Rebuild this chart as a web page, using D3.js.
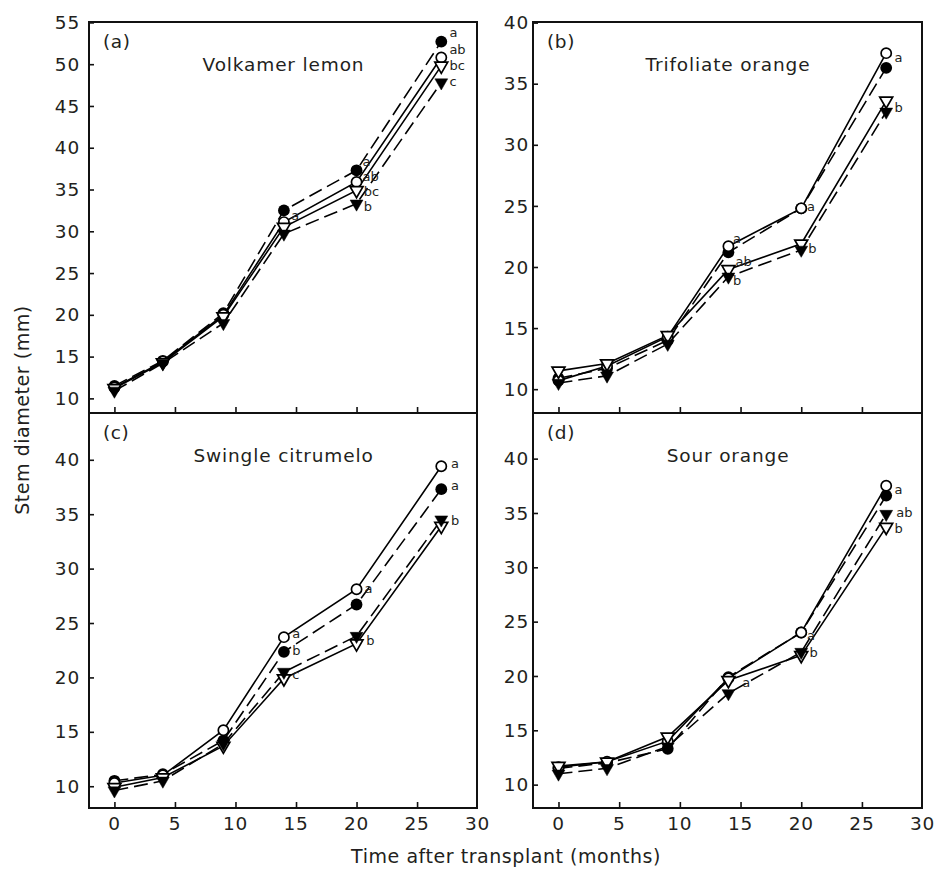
<!DOCTYPE html>
<html>
<head>
<meta charset="utf-8">
<script src="https://cdn.jsdelivr.net/npm/d3@7/dist/d3.min.js"></script>
<style>
  body { margin: 0; background: #fff; }
  svg { display: block; }
  text { font-family: "DejaVu Sans", sans-serif; fill: #231f20; }
</style>
</head>
<body>
<div id="chart"></div>
<script>
(function() {

    // time points (months after transplant)
    var months = [0, 4, 9, 14, 20, 27];

    // series order: filled circle, open circle, open triangle, filled triangle
    var markers = ['filledCircle', 'openCircle', 'openTriangle', 'filledTriangle'];

    // (a) Volkamer lemon
    var volkamerLemon = [
        [11.5, 14.5, 20.2, 32.5, 37.3, 52.7],
        [11.3, 14.4, 20.0, 31.1, 35.9, 50.8],
        [11.2, 14.3, 19.8, 30.5, 34.9, 49.8],
        [10.9, 14.2, 19.0, 29.7, 33.3, 47.8]
    ];
    var volkamerLetters = [
        [27.67, 53.7, 'a'], [27.67, 51.7, 'ab'], [27.67, 49.8, 'bc'], [27.67, 47.9, 'c'],
        [20.5, 38.3, 'a'], [20.5, 36.5, 'ab'], [20.6, 34.7, 'bc'], [20.6, 32.9, 'b'],
        [14.6, 31.9, 'a']
    ];

    // (b) Trifoliate orange
    var trifoliateOrange = [
        [10.9, 11.7, 14.0, 21.2, 24.8, 36.3],
        [10.7, 11.9, 14.3, 21.7, 24.8, 37.5],
        [11.5, 12.1, 14.4, 19.8, 21.9, 33.6],
        [10.5, 11.1, 13.7, 19.2, 21.4, 32.7]
    ];
    var trifoliateLetters = [
        [27.69, 37.1, 'a'], [27.69, 33.0, 'b'],
        [20.47, 24.9, 'a'], [20.58, 21.5, 'b'],
        [14.37, 22.3, 'a'], [14.59, 20.4, 'ab'], [14.37, 18.9, 'b']
    ];

    // (c) Swingle citrumelo
    var swingleCitrumelo = [
        [10.5, 11.1, 14.2, 22.35, 26.7, 37.3],
        [10.3, 11.0, 15.15, 23.7, 28.1, 39.4],
        [9.9, 10.8, 13.7, 19.9, 23.1, 33.9],
        [9.6, 10.5, 13.9, 20.5, 23.8, 34.5]
    ];
    var swingleLetters = [
        [27.81, 39.6, 'a'], [27.81, 37.6, 'a'], [27.81, 34.4, 'b'],
        [20.66, 28.1, 'a'], [20.8, 23.4, 'b'],
        [14.68, 24.0, 'a'], [14.68, 22.4, 'b'], [14.68, 20.2, 'c']
    ];

    // (d) Sour orange
    var sourOrange = [
        [11.5, 12.0, 13.3, 19.9, 24.0, 36.6],
        [11.6, 12.1, 14.0, 19.8, 24.0, 37.5],
        [11.7, 12.1, 14.4, 19.6, 21.9, 33.7],
        [11.0, 11.5, 13.5, 18.4, 22.2, 34.9]
    ];
    var sourLetters = [
        [27.69, 37.1, 'a'], [27.83, 35.0, 'ab'], [27.69, 33.5, 'b'],
        [20.47, 23.7, 'a'], [20.68, 22.1, 'b'],
        [15.14, 19.4, 'a']
    ];

    var xTicks = [0, 5, 10, 15, 20, 25, 30];

    var panels = [
        { tag: '(a)', name: 'Volkamer lemon', data: volkamerLemon, letters: volkamerLetters,
          col: 0, row: 0, yDomain: [8.25, 55.05], yTicks: [10, 15, 20, 25, 30, 35, 40, 45, 50, 55] },
        { tag: '(b)', name: 'Trifoliate orange', data: trifoliateOrange, letters: trifoliateLetters,
          col: 1, row: 0, yDomain: [8.05, 40.05], yTicks: [10, 15, 20, 25, 30, 35, 40] },
        { tag: '(c)', name: 'Swingle citrumelo', data: swingleCitrumelo, letters: swingleLetters,
          col: 0, row: 1, yDomain: [8, 44.3], yTicks: [10, 15, 20, 25, 30, 35, 40] },
        { tag: '(d)', name: 'Sour orange', data: sourOrange, letters: sourLetters,
          col: 1, row: 1, yDomain: [7.85, 44.2], yTicks: [10, 15, 20, 25, 30, 35, 40] }
    ];

    var width = 936, height = 869;
    var colX = [[89, 477], [533, 922]];
    var rowY = [[22, 413], [413, 808]];
    var labelPad = [9, 4];

    var svg = d3.select('#chart').append('svg')
        .attr('width', width)
        .attr('height', height);

    var symTri = d3.symbol().type(d3.symbolTriangle).size(72)();

    panels.forEach(function(p) {
        var x0 = colX[p.col][0], x1 = colX[p.col][1];
        var y0 = rowY[p.row][0], y1 = rowY[p.row][1];

        var x = d3.scaleLinear().domain([-2.1, 29.95]).range([x0, x1]);
        var y = d3.scaleLinear().domain(p.yDomain).range([y1, y0]);

        var g = svg.append('g');

        // y axis, ticks pointing inwards
        var yAxis = g.append('g')
            .attr('transform', 'translate(' + x0 + ',0)')
            .call(d3.axisRight(y).tickValues(p.yTicks).tickSize(5).tickFormat(''));
        yAxis.select('.domain').remove();
        yAxis.selectAll('.tick line').attr('stroke', '#111').attr('stroke-width', 1.6);

        g.selectAll('.ylab')
            .data(p.yTicks)
            .enter().append('text')
            .attr('x', x0 - labelPad[p.col])
            .attr('y', function(d) { return y(d); })
            .attr('dy', '0.36em')
            .attr('text-anchor', 'end')
            .style('font-size', '18.5px')
            .style('letter-spacing', '0.8px')
            .text(function(d) { return d; });

        // x axis, ticks pointing up
        var xAxis = g.append('g')
            .attr('transform', 'translate(0,' + y1 + ')')
            .call(d3.axisTop(x).tickValues(xTicks.slice(0, 6)).tickSize(6).tickFormat(''));
        xAxis.select('.domain').remove();
        xAxis.selectAll('.tick line').attr('stroke', '#111').attr('stroke-width', 1.6);

        if (p.row === 1) {
            g.selectAll('.xlab')
                .data(xTicks)
                .enter().append('text')
                .attr('x', function(d) { return x(d); })
                .attr('y', y1 + 22)
                .attr('text-anchor', 'middle')
                .style('font-size', '18.5px')
                .style('letter-spacing', '0.8px')
                .text(function(d) { return d; });
        }

        // frame
        g.append('rect')
            .attr('x', x0).attr('y', y0)
            .attr('width', x1 - x0).attr('height', y1 - y0)
            .attr('fill', 'none')
            .attr('stroke', '#111')
            .attr('stroke-width', 2);

        g.append('text')
            .attr('x', x0 + 14)
            .attr('y', y0 + 26)
            .style('font-size', '18.5px')
            .style('letter-spacing', '0.6px')
            .text(p.tag);

        g.append('text')
            .attr('x', (x0 + x1) / 2 + 0.5)
            .attr('y', y0 + 48.5)
            .attr('text-anchor', 'middle')
            .style('font-size', '18.5px')
            .style('letter-spacing', '0.85px')
            .text(p.name);

        var line = d3.line()
            .x(function(d, i) { return x(months[i]); })
            .y(function(d) { return y(d); });

        p.data.forEach(function(vals, si) {
            var filled = markers[si].indexOf('filled') === 0;
            g.append('path')
                .datum(vals)
                .attr('d', line)
                .attr('fill', 'none')
                .attr('stroke', '#000')
                .attr('stroke-width', 1.6)
                .attr('stroke-dasharray', filled ? '14,6' : null);
        });

        p.data.forEach(function(vals, si) {
            var kind = markers[si];
            var pts = g.selectAll('.m' + si)
                .data(vals)
                .enter();
            if (kind === 'filledCircle' || kind === 'openCircle') {
                pts.append('circle')
                    .attr('cx', function(d, i) { return x(months[i]); })
                    .attr('cy', function(d) { return y(d); })
                    .attr('r', kind === 'filledCircle' ? 5.9 : 5.1)
                    .attr('fill', kind === 'filledCircle' ? '#000' : '#fff')
                    .attr('stroke', '#000')
                    .attr('stroke-width', kind === 'filledCircle' ? 0 : 1.7);
            } else {
                pts.append('path')
                    .attr('d', symTri)
                    .attr('transform', function(d, i) {
                        return 'translate(' + x(months[i]) + ',' + y(d) + ') rotate(180)';
                    })
                    .attr('fill', kind === 'filledTriangle' ? '#000' : '#fff')
                    .attr('stroke', '#000')
                    .attr('stroke-width', kind === 'filledTriangle' ? 0.5 : 1.7);
            }
        });

        g.selectAll('.sig')
            .data(p.letters)
            .enter().append('text')
            .attr('x', function(d) { return x(d[0]); })
            .attr('y', function(d) { return y(d[1]); })
            .attr('dy', '0.32em')
            .style('font-size', '13px')
            .text(function(d) { return d[2]; });
    });

    // axis titles
    svg.append('text')
        .attr('transform', 'translate(29,410) rotate(-90)')
        .attr('text-anchor', 'middle')
        .style('font-size', '19px')
        .style('letter-spacing', '0.55px')
        .text('Stem diameter (mm)');

    svg.append('text')
        .attr('x', 506)
        .attr('y', 863)
        .attr('text-anchor', 'middle')
        .style('font-size', '19px')
        .style('letter-spacing', '0.55px')
        .text('Time after transplant (months)');

})();
</script>
</body>
</html>
